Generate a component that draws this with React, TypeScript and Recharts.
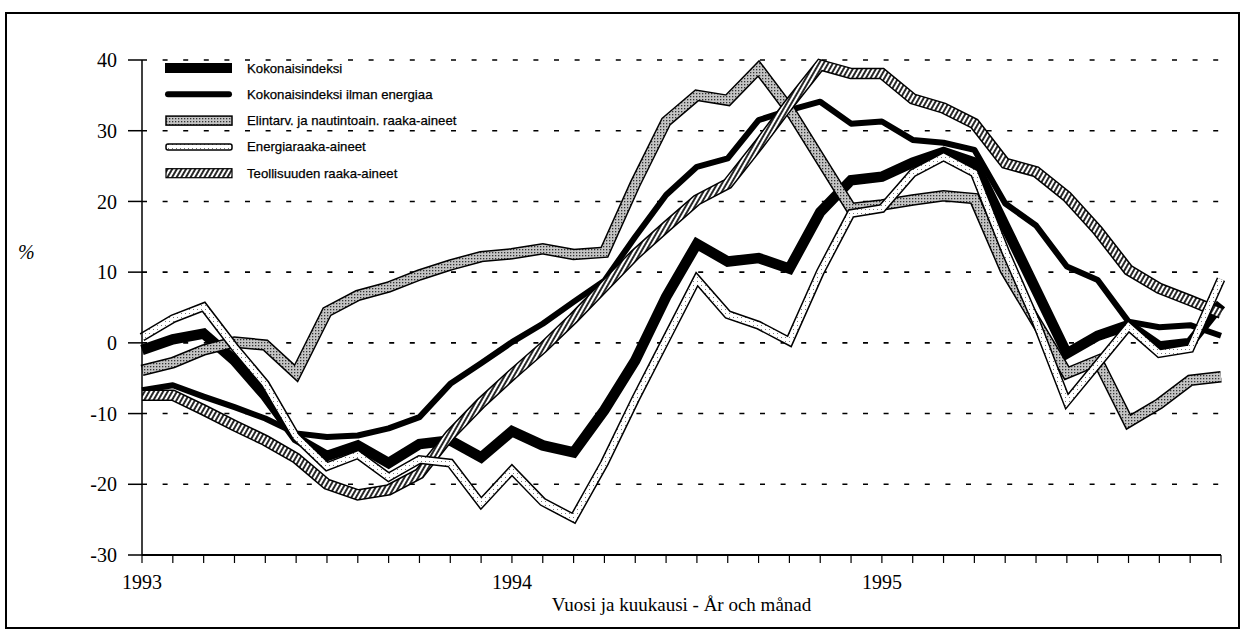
import { LineChart, Line, XAxis, YAxis, CartesianGrid, Legend, Label } from "recharts";

// monthly index numbers, Jan 1993 - Dec 1995
const years = ["1993", "1994", "1995"];
const monthNums = ["01", "02", "03", "04", "05", "06", "07", "08", "09", "10", "11", "12"];
const months = years.flatMap((y) => monthNums.map((m) => `${y}-${m}`));
const yTicks = [-30, -20, -10, 0, 10, 20, 30, 40];

const kokonais = [
  -1.0, 0.5, 1.3, -2.5, -7.5, -13.5, -16, -14.5, -17, -14.3, -13.8, -16.2,
  -12.5, -14.5, -15.5, -9.5, -2.5, 6.5, 14, 11.5, 12, 10.5, 18.5, 23,
  23.5, 25.5, 27, 25.5, 16.5, 7.5, -1.5, 1, 2.5, -0.5, 0, 5.5,
];
const ilmanEnergiaa = [
  -6.7, -6.0, -7.6, -9.1, -10.7, -12.8, -13.3, -13.1, -12.1, -10.5, -5.8, -2.9,
  0.1, 2.7, 5.8, 8.8, 15.0, 20.9, 24.9, 26.1, 31.5, 32.9, 34.1, 31.0,
  31.3, 28.7, 28.3, 27.3, 19.7, 16.6, 10.8, 8.9, 3.0, 2.2, 2.5, 1.0,
];
const elintarvikkeet = [
  -3.9, -2.8, -1.0, 0.1, -0.3, -4.3, 4.4, 6.7, 7.9, 9.6, 11.0, 12.2,
  12.6, 13.3, 12.5, 12.8, 22.5, 31.3, 35.0, 34.3, 38.8, 33.0, 26.0, 19.0,
  19.5, 20.2, 20.8, 20.4, 10.3, 3.0, -4.3, -2.5, -11.2, -8.6, -5.3, -4.8,
];
const energia = [
  0.8, 3.4, 5.1, -0.6, -5.8, -13.3, -17.5, -15.8, -19, -16.5, -17, -22.7,
  -18, -22.5, -24.8, -17, -8, 0.5, 9, 4, 2.5, 0.2, 10, 18.3,
  19, 24, 26.3, 24, 13, 3, -8.3, -3, 2.3, -1.5, -0.8, 9,
];
const teollisuus = [
  -7.4, -7.4, -9.5, -11.7, -13.8, -16.3, -20, -21.5, -20.8, -18.5, -13, -8.5,
  -4.5, -0.7, 3.5, 8, 12.5, 16.4, 20.2, 22.5, 28, 33.8, 39.3, 38.1,
  38.1, 34.5, 33.2, 31.0, 25.4, 24.2, 20.7, 15.9, 10.3, 7.7, 6.0, 4.2,
];

const legendItems = [
  { name: "Kokonaisindeksi", kind: "thick" },
  { name: "Kokonaisindeksi ilman energiaa", kind: "thin" },
  { name: "Elintarv. ja nautintoain. raaka-aineet", kind: "dots" },
  { name: "Energiaraaka-aineet", kind: "speck" },
  { name: "Teollisuuden raaka-aineet", kind: "hatch" },
];

const serif = "'Liberation Serif', 'Times New Roman', serif";
const sans = "'Liberation Sans', Arial, sans-serif";

function patternDefs(id: string) {
  return (
    <defs>
      <pattern id={`${id}-dots`} patternUnits="userSpaceOnUse" width={3} height={3}>
        <rect width={3} height={3} fill="#c4c4c4" />
        <rect width={1.3} height={1.3} fill="#333" />
      </pattern>
      <pattern id={`${id}-speck`} patternUnits="userSpaceOnUse" width={4} height={4}>
        <rect width={4} height={4} fill="#fff" />
        <rect x={1} y={1} width={1} height={1} fill="#777" />
      </pattern>
      <pattern
        id={`${id}-hatch`}
        patternUnits="userSpaceOnUse"
        width={4}
        height={4}
        patternTransform="rotate(30)"
      >
        <rect width={4} height={4} fill="#fff" />
        <line x1={1} y1={0} x2={1} y2={4} stroke="#000" strokeWidth={1.7} />
      </pattern>
    </defs>
  );
}

function swatch(kind: string, cy: number) {
  switch (kind) {
    case "thick":
      return <rect x={2} y={cy - 5} width={67} height={10} fill="#000" />;
    case "thin":
      return <rect x={2} y={cy - 3} width={67} height={6} rx={3} fill="#000" />;
    case "dots":
      return <rect x={3} y={cy - 4.5} width={66} height={9} fill="url(#lg-dots)" stroke="#000" strokeWidth={1.5} />;
    case "speck":
      return <rect x={3} y={cy - 3} width={66} height={6} rx={2} fill="url(#lg-speck)" stroke="#000" strokeWidth={1.5} />;
    default:
      return <rect x={3} y={cy - 4.5} width={66} height={9} fill="url(#lg-hatch)" stroke="#000" strokeWidth={1.2} />;
  }
}

function ChartLegend() {
  return (
    <svg width={340} height={135} style={{ display: "block" }}>
      {patternDefs("lg")}
      {legendItems.map((it, i) => {
        const cy = 13 + i * 26.3;
        return (
          <g key={it.name}>
            {swatch(it.kind, cy)}
            <text
              x={84}
              y={cy}
              dominantBaseline="central"
              fontFamily={sans}
              fontSize={13.2}
              fill="#000"
              stroke="#000"
              strokeWidth={0.25}
            >
              {it.name}
            </text>
          </g>
        );
      })}
    </svg>
  );
}

export default function App() {
  const data = months.map((m, i) => ({
    month: m,
    kok: kokonais[i],
    ilman: ilmanEnergiaa[i],
    elin: elintarvikkeet[i],
    ener: energia[i],
    teol: teollisuus[i],
  }));

  return (
    <div style={{ position: "absolute", left: 0, top: 0, width: 1247, height: 635, background: "#fff" }}>
      <div
        style={{
          position: "absolute",
          left: 5,
          top: 12,
          width: 1231,
          height: 613,
          border: "2px solid #000",
        }}
      />
      <LineChart width={1247} height={635} data={data} margin={{ top: 60, right: 26, left: 0, bottom: 20 }}>
        {patternDefs("c")}
        <CartesianGrid vertical={false} stroke="#000" strokeWidth={1.6} strokeDasharray="5 15.6" />
        <XAxis
          dataKey="month"
          interval={0}
          height={60}
          tickSize={8}
          tickMargin={12}
          stroke="#000"
          strokeWidth={2}
          tickLine={{ stroke: "#000", strokeWidth: 1.2 }}
          tick={{ fill: "#000", fontSize: 20, fontFamily: serif }}
          tickFormatter={(v: string) => (v.endsWith("-01") ? v.slice(0, 4) : "")}
        >
          <Label
            content={(props: any) => {
              const vb = props.viewBox || {};
              const x = (vb.x ?? 142) + (vb.width ?? 1079) / 2;
              return (
                <text x={x} y={611} textAnchor="middle" fontFamily={serif} fontSize={19} fill="#000">
                  Vuosi ja kuukausi - År och månad
                </text>
              );
            }}
          />
        </XAxis>
        <YAxis
          type="number"
          domain={[-30, 40]}
          ticks={yTicks}
          interval={0}
          width={142}
          tickSize={14}
          tickMargin={11}
          stroke="#000"
          strokeWidth={1.5}
          tick={{ fill: "#000", fontSize: 20, fontFamily: serif }}
        >
          <Label
            content={() => (
              <text x={18} y={259} fontFamily={serif} fontSize={20} fontStyle="italic" fill="#000">
                %
              </text>
            )}
          />
        </YAxis>
        <Legend
          layout="vertical"
          align="center"
          verticalAlign="middle"
          content={() => <ChartLegend />}
          wrapperStyle={{ left: 163, top: 55, width: 340, height: 135 }}
        />
        <Line type="linear" dataKey="ilman" stroke="#000" strokeWidth={6} dot={false} activeDot={false} isAnimationActive={false} strokeLinejoin="round" legendType="none" />
        <Line type="linear" dataKey="kok" stroke="#000" strokeWidth={10.5} dot={false} activeDot={false} isAnimationActive={false} strokeLinejoin="miter" strokeMiterlimit={2.5} legendType="none" />
        <Line type="linear" dataKey="elin" stroke="#000" strokeWidth={11.5} dot={false} activeDot={false} isAnimationActive={false} strokeLinejoin="miter" strokeMiterlimit={2.5} legendType="none" />
        <Line type="linear" dataKey="elin" stroke="url(#c-dots)" strokeWidth={8.5} dot={false} activeDot={false} isAnimationActive={false} strokeLinejoin="miter" strokeMiterlimit={2.5} legendType="none" />
        <Line type="linear" dataKey="teol" stroke="#000" strokeWidth={11.5} dot={false} activeDot={false} isAnimationActive={false} strokeLinejoin="miter" strokeMiterlimit={2.5} legendType="none" />
        <Line type="linear" dataKey="teol" stroke="url(#c-hatch)" strokeWidth={8.5} dot={false} activeDot={false} isAnimationActive={false} strokeLinejoin="miter" strokeMiterlimit={2.5} legendType="none" />
        <Line type="linear" dataKey="ener" stroke="#000" strokeWidth={9} dot={false} activeDot={false} isAnimationActive={false} strokeLinejoin="miter" strokeMiterlimit={2.5} legendType="none" />
        <Line type="linear" dataKey="ener" stroke="url(#c-speck)" strokeWidth={6} dot={false} activeDot={false} isAnimationActive={false} strokeLinejoin="miter" strokeMiterlimit={2.5} legendType="none" />
      </LineChart>
    </div>
  );
}
